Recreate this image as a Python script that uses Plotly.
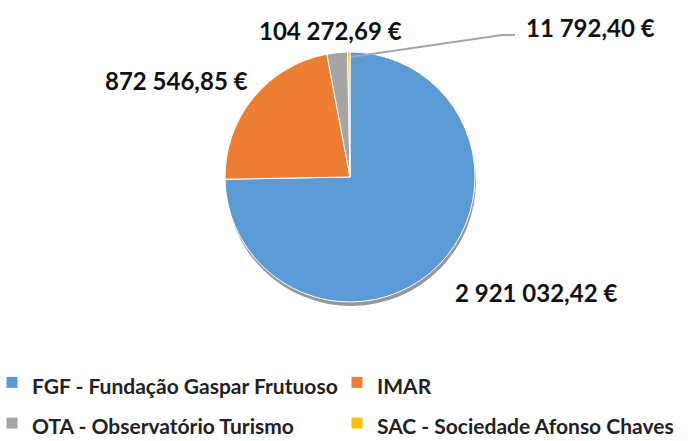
import plotly.graph_objects as go

labels = ["FGF - Fundação Gaspar Frutuoso", "IMAR", "OTA - Observatório Turismo", "SAC - Sociedade Afonso Chaves"]
values = [2921032.42, 872546.85, 104272.69, 11792.40]
colors = ["#5B9BD5", "#ED7D31", "#A5A5A5", "#FFC000"]

W, H = 692, 441
MB = 100                      # bottom margin reserved for the legend
PH = H - MB                   # plot-area height
cx, cy, r = 350, 177, 125


def fmt(v):
    s = f"{v:,.2f}"
    s = s.replace(",", " ").replace(".", ",")
    return s + " €"


def px(x):
    return x / W


def py(y):
    return (PH - y) / PH


legend_labels = [f"<span style='font-size:21px'>{l}</span>" for l in labels]

fig = go.Figure()

# shadow
fig.add_trace(go.Pie(
    values=values, labels=legend_labels, sort=False, direction="clockwise", rotation=0,
    marker=dict(colors=["rgba(40,50,60,0.5)"] * 4, line=dict(width=0)),
    textinfo="none", hoverinfo="skip", showlegend=False,
    domain=dict(x=[px(cx - r + 1), px(cx + r + 1)], y=[py(cy + r + 4), py(cy - r + 4)]),
))

fig.add_trace(go.Pie(
    values=values, labels=legend_labels, sort=False, direction="clockwise", rotation=0,
    marker=dict(colors=colors, line=dict(color="white", width=1)),
    textinfo="none",
    domain=dict(x=[px(cx - r), px(cx + r)], y=[py(cy + r), py(cy - r)]),
))

label_pos = [(536, 292), (176, 80), (330, 30), (590, 27)]
for v, (x, y) in zip(values, label_pos):
    fig.add_annotation(x=px(x), y=py(y), xref="paper", yref="paper", text=fmt(v),
                       showarrow=False, font=dict(family="Lato", size=24, color="#111111", weight="bold"),
                       xanchor="center", yanchor="middle")

fig.add_shape(type="path", xref="paper", yref="paper",
              path=f"M {px(351)} {py(57)} L {px(502)} {py(35)} L {px(515)} {py(35)}",
              line=dict(color="#A5A5A5", width=2))

fig.update_layout(
    width=W, height=H, margin=dict(l=0, r=0, t=0, b=MB, autoexpand=False),
    paper_bgcolor="white", plot_bgcolor="white",
    font=dict(family="Lato", size=18, color="#222222"),
    legend=dict(orientation="h", x=-8 / W, y=py(357), xanchor="left", yanchor="top",
                entrywidth=300, entrywidthmode="pixels",
                font=dict(size=29, family="Lato", weight="bold", color="#222222")),
)

fig.write_html("out.html", post_script="document.body.style.margin='0';document.body.style.overflow='hidden';",
               config={"displayModeBar": False})
